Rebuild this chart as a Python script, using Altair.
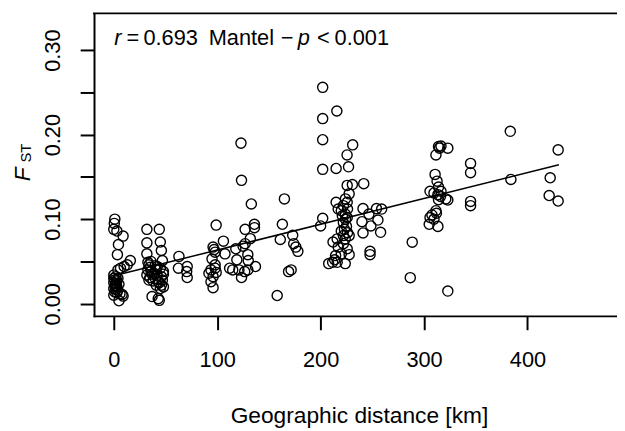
import altair as alt
import pandas as pd

# ---- data (distance in km, pairwise FST) ----
distance_km = [
    # ~0 km
    1, 0.5, 0, 3, 9, 4.5, 3.5, 6.5, 10, 13, 16,
    0, 2, 4, 1, 3, 0, 2, 5, 1, 3, 0, 2, 4, 1, 3, 6, 8, 0, 9, 5, 2, 0, 4,
    # ~32-48 km
    32, 32, 32, 33, 34, 33, 32, 34, 35, 36, 37, 35, 36,
    44, 45, 46, 47, 45, 48, 46, 43, 46, 45, 37, 43, 44,
    40, 41, 39, 42, 40, 38, 47, 48, 42, 44, 41, 48,
    # ~63-72 km
    63, 62.5, 71, 70.5, 71,
    # ~92-108 km
    99, 96, 98, 95, 98, 94, 98, 92, 96, 94, 96, 99, 97, 106, 107.5,
    # ~112-137 km
    112, 115, 119, 118, 123.5, 123, 123.5, 121,
    127, 127, 129.6, 130, 126.6, 132, 136, 136, 133, 137, 129.6, 125,
    # ~158-178 km
    158, 163, 165, 161, 173, 174, 176, 178, 171.5, 169,
    # ~200-232 km
    202, 202, 202, 202, 202, 200,
    215.7, 231, 225.6, 227, 215, 215, 217, 220, 222, 225.7, 227.6, 225.7,
    230.7, 223.8, 225.7, 222, 225, 220, 222, 223.8, 227.6, 216, 212, 217,
    222, 225.7, 227.6, 214.5, 213.6, 211.6, 207.8, 216, 223.8, 220,
    224, 226, 223, 226, 224, 221,
    # ~240-260 km
    241.7, 241, 240, 241, 248.6, 246.7, 254, 259, 255.4, 258, 247.8, 247.8,
    # ~287-289 km
    288.6, 286.7,
    # ~305-323 km
    311.5, 314, 316.4, 315, 323, 310.7, 312.6, 314, 305.8, 309.6, 316.4,
    313.4, 321, 314, 323, 311.5, 307.7, 305.8, 309.6, 313.4, 305, 323, 312, 316,
    # ~345 km
    345, 345, 345, 345,
    # ~383 km
    384, 383.4,
    # ~421-430 km
    422, 421, 429.7, 429.7,
]
fst = [
    0.100, 0.095, 0.088, 0.086, 0.080, 0.070, 0.058, 0.042, 0.044, 0.046, 0.051,
    0.034, 0.032, 0.030, 0.028, 0.027, 0.025, 0.024, 0.023, 0.021, 0.020, 0.018,
    0.017, 0.016, 0.014, 0.013, 0.012, 0.011, 0.010, 0.009, 0.0035, 0.022, 0.030, 0.040,
    0.088, 0.072, 0.059, 0.049, 0.046, 0.040, 0.034, 0.028, 0.043, 0.038, 0.035, 0.031, 0.050,
    0.088, 0.073, 0.063, 0.051, 0.042, 0.038, 0.032, 0.026, 0.022, 0.018, 0.0085, 0.006, 0.004,
    0.045, 0.040, 0.036, 0.033, 0.030, 0.027, 0.028, 0.035, 0.044, 0.025, 0.022, 0.020,
    0.056, 0.042, 0.044, 0.038, 0.031,
    0.093, 0.067, 0.061, 0.053, 0.046, 0.040, 0.042, 0.036, 0.032, 0.026, 0.019, 0.037, 0.064,
    0.074, 0.059,
    0.042, 0.040, 0.052, 0.065, 0.031, 0.190, 0.146, 0.040,
    0.071, 0.088, 0.058, 0.051, 0.038, 0.077, 0.094, 0.090, 0.118, 0.044, 0.040, 0.068,
    0.0097, 0.094, 0.124, 0.076, 0.081, 0.071, 0.067, 0.062, 0.040, 0.038,
    0.256, 0.219, 0.194, 0.159, 0.101, 0.092,
    0.228, 0.188, 0.176, 0.162, 0.160, 0.120, 0.112, 0.110, 0.116, 0.140, 0.130, 0.120,
    0.141, 0.106, 0.102, 0.096, 0.0915, 0.086, 0.0806, 0.0767, 0.0806, 0.0767, 0.073, 0.067,
    0.071, 0.065, 0.058, 0.057, 0.052, 0.049, 0.0475, 0.049, 0.0475, 0.059,
    0.124, 0.112, 0.088, 0.084, 0.100, 0.104,
    0.142, 0.1125, 0.097, 0.0837, 0.092, 0.106, 0.1125, 0.112, 0.099, 0.0845, 0.062, 0.058,
    0.0728, 0.0308,
    0.176, 0.186, 0.1865, 0.184, 0.184, 0.153, 0.145, 0.138, 0.133, 0.131, 0.133,
    0.129, 0.124, 0.123, 0.1227, 0.110, 0.105, 0.102, 0.100, 0.0915, 0.094, 0.015, 0.107, 0.127,
    0.166, 0.155, 0.121, 0.116,
    0.147, 0.204,
    0.149, 0.128, 0.182, 0.1215,
]

# fitted line end points
line_km = [5, 430.4]
line_fst = [0.0345, 0.1643]

x_ticks = [0, 100, 200, 300, 400]
y_ticks = [0, 0.05, 0.10, 0.15, 0.20, 0.25, 0.30]

# annotation pieces (data units)
ann_regular = ["=", "0.693", "Mantel", "\u2212", "<", "0.001"]
ann_regular_km = [12.4, 28.7, 91.8, 161.5, 196.5, 213.5]
ann_italic = ["r", "p"]
ann_italic_km = [0.5, 177.8]
ann_fst = 0.306

ylab_main = ["F"]
ylab_main_km = [-81.3]
ylab_main_fst = [0.1449]
ylab_sub = ["ST"]
ylab_sub_km = [-80.3]
ylab_sub_fst = [0.167]

W, H = 529, 306
FONT = "Liberation Sans"

x_scale = alt.Scale(domain=[-19.12, 486.6], nice=False, zero=False)
y_scale = alt.Scale(domain=[-0.0144, 0.3435], nice=False, zero=False)

x_axis = alt.Axis(
    values=x_ticks, title="Geographic distance [km]", grid=False,
    tickSize=14, tickWidth=2, tickColor="black",
    domainWidth=2, domainColor="black", domainCap="square",
    labelColor="black", labelFont=FONT, labelFontSize=22, labelPadding=20,
    labelFlush=False, labelOverlap=False,
    titleFont=FONT, titleFontSize=23, titleFontWeight="normal", titleColor="black",
    titleX=268, titleY=108, titleAlign="center", titleBaseline="alphabetic",
)
y_axis = alt.Axis(
    values=y_ticks, title=None, grid=False,
    labelExpr="round(datum.value*100) % 10 == 0 ? format(datum.value, '.2f') : ''",
    tickSize=14, tickWidth=2, tickColor="black",
    domainWidth=2, domainColor="black", domainCap="square",
    labelColor="black", labelFont=FONT, labelFontSize=22, labelPadding=21,
    labelAngle=270, labelAlign="center", labelBaseline="alphabetic",
    labelFlush=False, labelOverlap=False,
)

X = alt.X("km:Q", scale=x_scale, axis=x_axis)
Y = alt.Y("fst:Q", scale=y_scale, axis=y_axis)

pts = pd.DataFrame({"km": distance_km, "fst": fst})
fit = pd.DataFrame({"km": line_km, "fst": line_fst})
reg = pd.DataFrame({"km": ann_regular_km, "fst": [ann_fst] * len(ann_regular), "t": ann_regular})
ita = pd.DataFrame({"km": ann_italic_km, "fst": [ann_fst] * len(ann_italic), "t": ann_italic})
yl1 = pd.DataFrame({"km": ylab_main_km, "fst": ylab_main_fst, "t": ylab_main})
yl2 = pd.DataFrame({"km": ylab_sub_km, "fst": ylab_sub_fst, "t": ylab_sub})

points = alt.Chart(pts).mark_point(
    shape="circle", filled=False, size=105, strokeWidth=1.4, color="black", opacity=1
).encode(x=X, y=Y)

line = alt.Chart(fit).mark_line(color="black", strokeWidth=1.5).encode(x=X, y=Y)

top_border = alt.Chart(pd.DataFrame({"a": [0]})).mark_rule(
    color="black", strokeWidth=2, strokeCap="square"
).encode(x=alt.value(0), x2=alt.value(W), y=alt.value(0))

txt_reg = alt.Chart(reg).mark_text(
    font=FONT, fontSize=22, align="left", baseline="alphabetic", color="black"
).encode(x=X, y=Y, text="t:N")
txt_ita = alt.Chart(ita).mark_text(
    font=FONT, fontSize=22, fontStyle="italic", align="left", baseline="alphabetic", color="black"
).encode(x=X, y=Y, text="t:N")
ylab1 = alt.Chart(yl1).mark_text(
    font=FONT, fontSize=23, fontStyle="italic", align="left", baseline="alphabetic",
    angle=270, color="black"
).encode(x=X, y=Y, text="t:N")
ylab2 = alt.Chart(yl2).mark_text(
    font=FONT, fontSize=15, align="left", baseline="alphabetic",
    angle=270, color="black"
).encode(x=X, y=Y, text="t:N")

chart = alt.layer(points, line, top_border, txt_reg, txt_ita, ylab1, ylab2).properties(
    width=W, height=H,
    padding={"left": 87, "top": 3, "right": 0, "bottom": 114},
    autosize=alt.AutoSizeParams(type="none"),
    background="white",
).configure_view(strokeWidth=0)

chart.save("out.html", embed_options={"renderer": "svg", "actions": False})
